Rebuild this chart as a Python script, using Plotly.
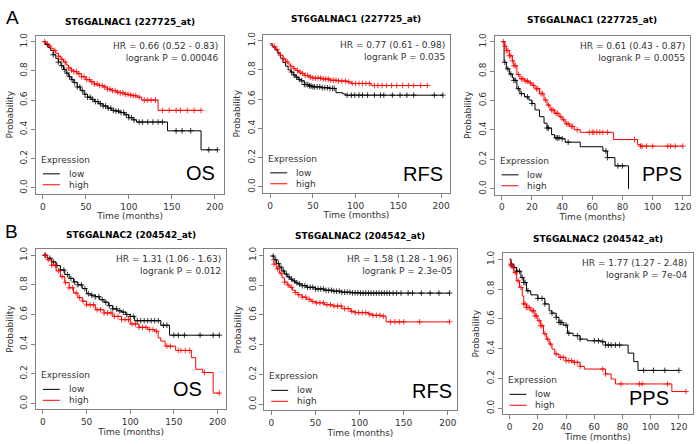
import numpy as np
import plotly.graph_objects as go

# ---------------- data ----------------
A1_low_t = [0,3,6,9,12,15,18,21,24,27,30,33,36,40,44,48,52,56,60,65,70,75,80,85,90,95,100,105,109,145,184,203]
A1_low_s = [1.0,0.98,0.96,0.94,0.91,0.885,0.86,0.835,0.81,0.785,0.76,0.74,0.72,0.69,0.665,0.64,0.62,0.605,0.59,0.575,0.56,0.545,0.53,0.525,0.515,0.5,0.48,0.465,0.45,0.39,0.26,0.26]
A1_low_c = [5,12,18,22,25,28,31,34,37,40,43,46,49,52,55,58,61,64,67,70,73,76,79,82,85,88,91,94,97,100,103,106,112,116,122,128,134,139,155,162,172,193,203]
A1_high_t = [0,3,6,9,12,15,18,21,24,27,30,33,36,40,45,50,55,60,65,70,75,80,85,90,95,100,105,110,115,134,184]
A1_high_s = [1.0,0.99,0.97,0.955,0.94,0.92,0.9,0.88,0.86,0.84,0.82,0.805,0.795,0.78,0.76,0.74,0.725,0.71,0.70,0.69,0.675,0.665,0.655,0.65,0.64,0.635,0.63,0.62,0.60,0.53,0.53]
A1_high_c = [2,8,14,18,22,26,30,33,36,39,42,45,48,51,54,57,60,63,66,69,72,75,78,81,84,87,90,93,96,99,102,105,108,112,118,122,126,131,139,147,155,160,168,176,184]

A2_low_t = [0,3,6,9,12,15,18,21,24,27,30,33,36,40,45,50,60,70,77,85,88,202]
A2_low_s = [0.97,0.955,0.935,0.91,0.88,0.85,0.825,0.80,0.785,0.765,0.75,0.735,0.725,0.70,0.69,0.684,0.678,0.673,0.644,0.636,0.627,0.627]
A2_low_c = [25,28,31,34,37,40,42,44,46,48,50,52,55,58,61,64,67,70,73,75,90,95,99,104,108,114,122,129,133,143,152,160,168,192,202]
A2_high_t = [0,3,6,9,12,15,18,21,24,27,30,33,36,40,45,50,60,70,80,90,95,118,184]
A2_high_s = [0.98,0.96,0.94,0.92,0.90,0.875,0.855,0.84,0.825,0.81,0.796,0.785,0.775,0.762,0.751,0.744,0.738,0.729,0.724,0.718,0.707,0.693,0.693]
A2_high_c = [5,8,12,16,20,24,28,32,35,38,41,44,47,50,53,56,59,62,65,68,71,74,77,80,84,88,92,96,100,104,108,112,116,122,126,131,136,142,148,155,162,168,176,184]

A3_low_t = [0,1.5,3,5,7,8,10,12,15,18,20,22,25,28,30,33,35,40,42,52,67,70,75,84]
A3_low_s = [1.0,0.86,0.815,0.78,0.754,0.737,0.68,0.647,0.625,0.603,0.58,0.536,0.49,0.446,0.413,0.368,0.346,0.34,0.317,0.286,0.257,0.212,0.156,0.0]
A3_low_c = [2,4,6,8,9,11,13,17,20,30,31,36,37,38,40,44,69,70,77,80]
A3_high_t = [1,2,3,5,7,8,10,12,15,18,20,22,25,28,30,32,35,38,40,42,45,48,52,74,90,92,120]
A3_high_s = [1.0,0.97,0.94,0.904,0.87,0.837,0.777,0.748,0.732,0.719,0.703,0.68,0.647,0.603,0.569,0.536,0.513,0.49,0.469,0.442,0.424,0.402,0.384,0.335,0.30,0.29,0.29]
A3_high_c = [1,2,3,4,5,6,7,8,9,11,13,14,16,17,19,21,23,24,26,27,29,31,33,34,36,37,39,41,43,44,46,47,50,58,60,61,63,65,67,70,88,92,93,96,100,110,112,115,120]

B1_low_t = [0,5,10,15,20,25,30,35,40,45,50,55,60,65,70,75,80,85,90,95,100,105,135,145,202]
B1_low_s = [1.0,0.98,0.955,0.93,0.90,0.87,0.844,0.82,0.80,0.775,0.74,0.73,0.72,0.70,0.683,0.66,0.638,0.625,0.616,0.60,0.587,0.558,0.527,0.46,0.46]
B1_low_c = [3,8,12,16,20,24,28,32,36,40,44,48,52,56,60,64,68,72,76,80,84,88,92,96,100,104,108,112,116,120,124,128,132,138,142,150,155,162,180,195,202]
B1_high_t = [0,5,10,15,20,25,30,35,40,45,50,60,70,80,90,100,110,120,128,132,135,140,152,170,175,183,195,202]
B1_high_s = [1.0,0.97,0.933,0.895,0.855,0.815,0.78,0.745,0.714,0.69,0.665,0.632,0.61,0.587,0.565,0.536,0.513,0.498,0.487,0.442,0.42,0.386,0.357,0.308,0.23,0.208,0.069,0.069]
B1_high_c = [2,6,10,14,18,22,26,30,34,38,42,46,50,54,58,62,66,70,74,78,82,86,90,94,98,102,106,110,114,118,122,126,130,142,146,155,158,163,168,185,202]

B2_low_t = [0,3,6,9,12,15,18,21,24,27,30,35,40,50,60,70,80,90,100,202]
B2_low_s = [0.995,0.97,0.945,0.92,0.895,0.874,0.855,0.84,0.828,0.815,0.807,0.796,0.785,0.774,0.765,0.759,0.752,0.748,0.746,0.746]
B2_low_c = [2,5,8,11,14,17,20,23,26,29,32,35,38,41,44,47,50,53,56,59,62,65,68,71,74,77,80,83,86,89,92,95,98,101,104,107,110,113,116,119,122,125,128,131,134,138,142,147,155,160,170,180,190,202]
B2_high_t = [0,3,6,9,12,15,18,21,24,27,30,35,40,45,50,60,70,80,90,95,110,115,125,130,202]
B2_high_s = [0.97,0.94,0.91,0.88,0.85,0.82,0.80,0.785,0.765,0.75,0.735,0.719,0.704,0.69,0.681,0.668,0.659,0.642,0.624,0.615,0.606,0.597,0.591,0.553,0.553]
B2_high_c = [3,7,11,15,19,23,27,31,35,39,43,47,51,55,59,63,67,71,75,79,83,87,91,95,99,103,107,111,115,119,123,127,135,140,145,150,168,202]

B3_low_t = [0,1,3,5,8,10,12,15,20,25,28,30,33,35,38,41,45,50,55,65,68,84,88,91,120]
B3_low_s = [1.0,0.967,0.944,0.92,0.877,0.844,0.788,0.761,0.737,0.70,0.654,0.638,0.61,0.576,0.558,0.504,0.487,0.464,0.453,0.446,0.424,0.37,0.313,0.254,0.254]
B3_low_c = [1,3,5,7,9,10,11,13,20,23,25,30,33,35,36,37,40,42,48,50,60,63,66,68,70,72,75,78,95,102,110,120]
B3_high_t = [0,1,3,5,7,9,10,12,15,18,20,22,24,26,28,30,32,35,40,45,50,53,68,72,75,115,125]
B3_high_s = [1.0,0.955,0.91,0.855,0.81,0.754,0.70,0.676,0.654,0.62,0.587,0.554,0.50,0.464,0.431,0.397,0.364,0.342,0.319,0.308,0.281,0.263,0.23,0.196,0.163,0.112,0.112]
B3_high_c = [1,2,4,6,8,10,11,12,13,14,16,17,18,19,21,22,23,25,27,29,33,36,38,40,42,44,46,48,50,66,68,79,92,94,112,125]

titles = ["ST6GALNAC1 (227725_at)"] * 3 + ["ST6GALNAC2 (204542_at)"] * 3
hr_texts = ["HR = 0.66 (0.52 - 0.83)<br>logrank P = 0.00046",
            "HR = 0.77 (0.61 - 0.98)<br>logrank P = 0.035",
            "HR = 0.61 (0.43 - 0.87)<br>logrank P = 0.0055",
            "HR = 1.31 (1.06 - 1.63)<br>logrank P = 0.012",
            "HR = 1.58 (1.28 - 1.96)<br>logrank P = 2.3e-05",
            "HR = 1.77 (1.27 - 2.48)<br>logrank P = 7e-04"]
endpoints = ["OS", "RFS", "PPS", "OS", "RFS", "PPS"]
group_names = ["low", "high"]
legend_title = "Expression"
x_max = [203, 202, 120, 202, 202, 125]
x_ticks = [[0, 50, 100, 150, 200]] * 2 + [[0, 20, 40, 60, 80, 100, 120]] + [[0, 50, 100, 150, 200]] * 2 + [[0, 20, 40, 60, 80, 100, 120]]
y_ticks = [0.0, 0.2, 0.4, 0.6, 0.8, 1.0]

panels = [
    (A1_low_t, A1_low_s, A1_low_c, A1_high_t, A1_high_s, A1_high_c),
    (A2_low_t, A2_low_s, A2_low_c, A2_high_t, A2_high_s, A2_high_c),
    (A3_low_t, A3_low_s, A3_low_c, A3_high_t, A3_high_s, A3_high_c),
    (B1_low_t, B1_low_s, B1_low_c, B1_high_t, B1_high_s, B1_high_c),
    (B2_low_t, B2_low_s, B2_low_c, B2_high_t, B2_high_s, B2_high_c),
    (B3_low_t, B3_low_s, B3_low_c, B3_high_t, B3_high_s, B3_high_c),
]

# ---------------- layout geometry (pixels) ----------------
W, H = 700, 444
boxes = [(36, 225, 33, 192), (264, 451, 32, 191), (496, 692, 33, 193),
         (36, 227, 248, 409), (265, 458, 248, 410), (504, 695, 252, 414)]
title_y = [19, 16, 17, 234, 235, 238]
ep_pos = [(218, 184), (446, 185), (686, 185), (205, 402), (455, 404), (673, 411)]

def px(x):
    return x / W

def py(y):
    return 1 - y / H

BLACK = "#000000"
RED = "#ff0000"
GRAY = "#808080"
TXT = "#333333"
FONT = "DejaVu Sans"

fig = go.Figure()
layout = dict(width=W, height=H, margin=dict(l=0, r=0, t=0, b=0),
              paper_bgcolor="white", plot_bgcolor="white", showlegend=False)
annotations = []
shapes = []

def step_value(t, s, c):
    t = np.asarray(t, float)
    s = np.asarray(s, float)
    idx = np.searchsorted(t, np.asarray(c, float), side="right") - 1
    idx = np.clip(idx, 0, len(s) - 1)
    return s[idx]

for i, (lt, ls, lc, ht, hs, hc) in enumerate(panels):
    n = i + 1
    xa = "x" if n == 1 else f"x{n}"
    ya = "y" if n == 1 else f"y{n}"
    x0, x1, y0, y1 = boxes[i]
    for (t, s, c, name, col) in [(lt, ls, lc, "low", BLACK), (ht, hs, hc, "high", RED)]:
        fig.add_trace(go.Scatter(x=t, y=s, mode="lines", line=dict(color=col, width=1, shape="hv"),
                                 name=name, xaxis=xa, yaxis=ya))
        fig.add_trace(go.Scatter(x=c, y=step_value(t, s, c), mode="markers", name=name + " (censored)",
                                 marker=dict(symbol="cross-thin", size=4, line=dict(color=col, width=0.8)),
                                 xaxis=xa, yaxis=ya, hoverinfo="skip"))
    T = x_max[i]
    axis_common = dict(showline=True, mirror=True, linecolor=GRAY, linewidth=1,
                       ticks="outside", ticklen=4, tickcolor=GRAY, tickwidth=1,
                       showgrid=False, zeroline=False,
                       tickfont=dict(family=FONT, size=9, color=TXT))
    layout["xaxis" if n == 1 else f"xaxis{n}"] = dict(
        domain=[px(x0), px(x1)], range=[-0.04 * T, 1.04 * T], anchor=ya,
        tickvals=x_ticks[i], title=dict(text="Time (months)", font=dict(family=FONT, size=9, color=TXT), standoff=1),
        **axis_common)
    layout["yaxis" if n == 1 else f"yaxis{n}"] = dict(
        domain=[py(y1), py(y0)], range=[-0.04, 1.04], anchor=xa,
        tickvals=y_ticks, tickformat=".1f", tickangle=-90,
        title=dict(text="Probability", font=dict(family=FONT, size=9, color=TXT), standoff=4),
        **axis_common)
    # title, statistics and endpoint label
    annotations.append(dict(text=f"<b>{titles[i]}</b>", x=px((x0 + x1) / 2), y=py(title_y[i]),
                            xref="paper", yref="paper", xanchor="center", yanchor="middle", showarrow=False,
                            font=dict(family=FONT, size=9, color="#000000")))
    annotations.append(dict(text=hr_texts[i], x=px(x1 - 3), y=py(y0 + 3), xref="paper", yref="paper",
                            xanchor="right", yanchor="top", align="right", showarrow=False,
                            font=dict(family=FONT, size=9, color=TXT)))
    ex, ey = ep_pos[i]
    annotations.append(dict(text=endpoints[i], x=px(ex), y=py(ey), xref="paper", yref="paper",
                            xanchor="right", yanchor="bottom", showarrow=False,
                            font=dict(family="Liberation Sans", size=20, color="#000000")))
    # legend block (bottom-left inside the box)
    annotations.append(dict(text=legend_title, x=px(x0 + 3), y=py(y1 - 34), xref="paper", yref="paper",
                            xanchor="left", yanchor="middle", showarrow=False,
                            font=dict(family=FONT, size=9, color=TXT)))
    for k, (gname, col, dy) in enumerate([(group_names[0], BLACK, 20), (group_names[1], RED, 9)]):
        annotations.append(dict(text=gname, x=px(x0 + 31), y=py(y1 - dy), xref="paper", yref="paper",
                                xanchor="left", yanchor="middle", showarrow=False,
                                font=dict(family=FONT, size=9, color=TXT)))
        shapes.append(dict(type="line", xref="paper", yref="paper",
                           x0=px(x0 + 7), x1=px(x0 + 24), y0=py(y1 - dy), y1=py(y1 - dy),
                           line=dict(color=col, width=1)))

annotations.append(dict(text="A", x=px(4), y=py(2), xref="paper", yref="paper", xanchor="left", yanchor="top",
                        showarrow=False, font=dict(family="Liberation Sans", size=19, color="#000000")))
annotations.append(dict(text="B", x=px(3), y=py(217), xref="paper", yref="paper", xanchor="left", yanchor="top",
                        showarrow=False, font=dict(family="Liberation Sans", size=19, color="#000000")))
layout["annotations"] = annotations
layout["shapes"] = shapes
fig.update_layout(**layout)
fig.write_html("out.html", config={"displayModeBar": False},
               post_script="document.body.style.margin='0px';")
